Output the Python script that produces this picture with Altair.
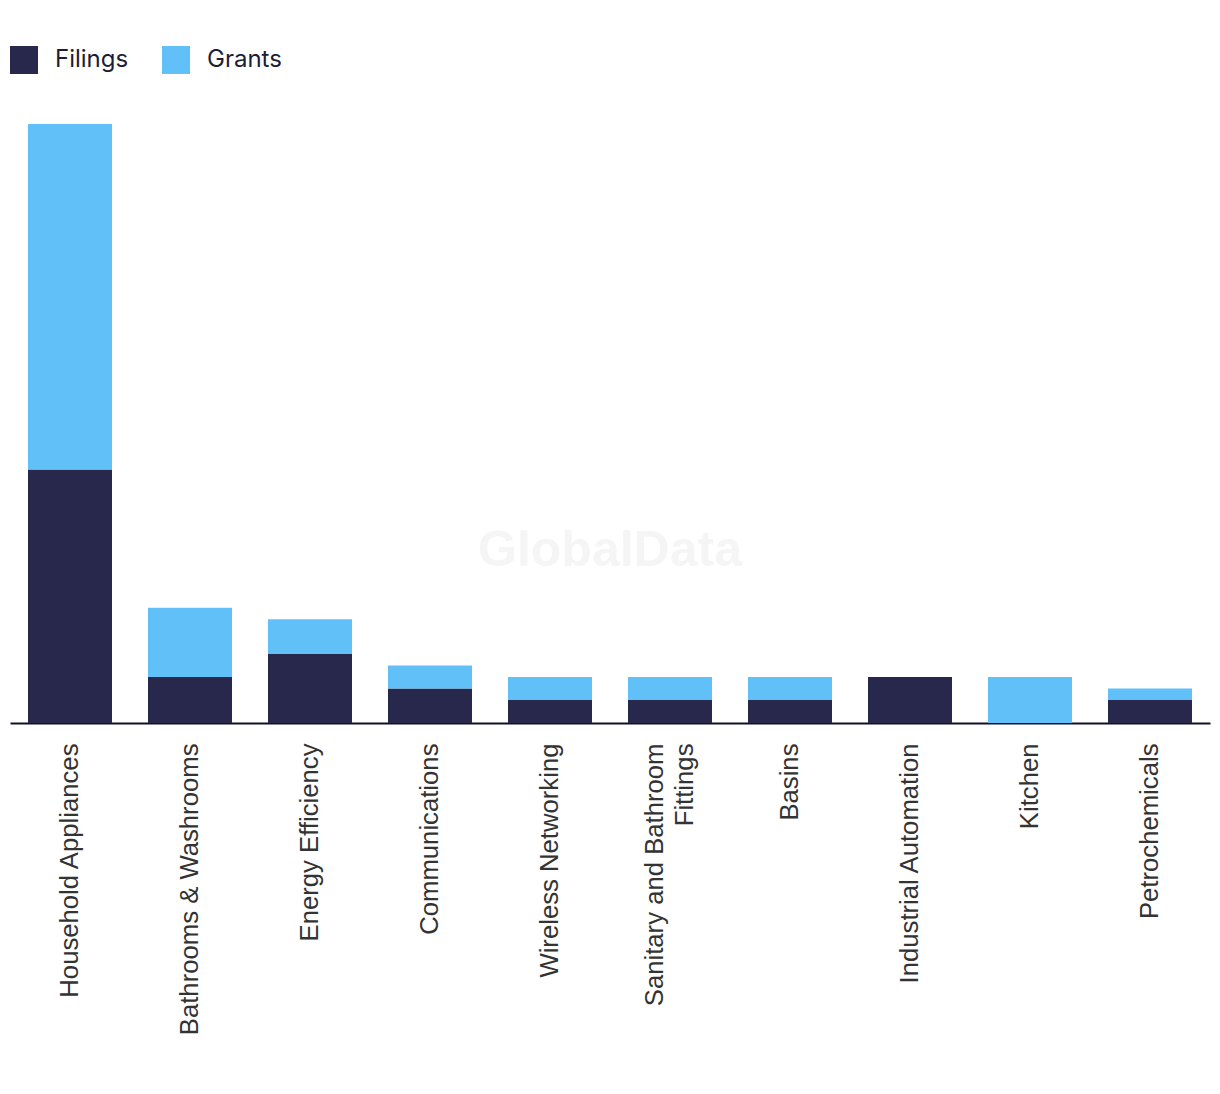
import altair as alt
import pandas as pd

categories = [
    "Household Appliances", "Bathrooms & Washrooms", "Energy Efficiency",
    "Communications", "Wireless Networking", "Sanitary and Bathroom Fittings",
    "Basins", "Industrial Automation", "Kitchen", "Petrochemicals",
]
filings = [22, 4, 6, 3, 2, 2, 2, 4, 0, 2]
grants = [30, 6, 3, 2, 2, 2, 2, 0, 4, 1]
series = ["Filings", "Grants"]
colors = ["#27284b", "#62c0f9"]

rows = []
for c, f, g in zip(categories, filings, grants):
    rows.append({"category": c, "type": "Filings", "value": f, "ord": 0})
    rows.append({"category": c, "type": "Grants", "value": g, "ord": 1})
df = pd.DataFrame(rows)

label_expr = ("datum.label == 'Sanitary and Bathroom Fittings' ? "
              "['Sanitary and Bathroom', 'Fittings'] : datum.label")
offset_expr = "datum.value == 'Sanitary and Bathroom Fittings' ? -15 : 0"

bars = alt.Chart(df).mark_bar().encode(
    x=alt.X("category:N", sort=categories,
            scale=alt.Scale(paddingInner=0.3, paddingOuter=0.15),
            axis=alt.Axis(title=None, labelAngle=-90, labelAlign="right",
                          labelBaseline="middle", labelPadding=20,
                          labelExpr=label_expr,
                          labelOffset=alt.ExprRef(offset_expr),
                          labelFont="Liberation Sans", labelFontSize=25.7,
                          labelColor="#333333", labelLineHeight=30,
                          ticks=False, domainColor="#10102a", domainWidth=2,
                          labelLimit=0)),
    y=alt.Y("value:Q", stack="zero", scale=alt.Scale(domain=[0, 52], nice=False),
            axis=None),
    color=alt.Color("type:N", sort=series,
                    scale=alt.Scale(domain=series, range=colors),
                    legend=alt.Legend(title=None, orient="none", legendX=0, legendY=-78,
                                      direction="horizontal", symbolType="square",
                                      symbolSize=784, symbolStrokeWidth=0,
                                      labelFont="Inter", labelFontSize=24,
                                      labelColor="#1d1d35", labelOffset=17,
                                      columnPadding=33, padding=0)),
    order=alt.Order("ord:Q"),
)

wm = alt.Chart(pd.DataFrame({"t": ["GlobalData"]})).mark_text(
    font="Liberation Sans", fontWeight="bold", fontSize=50, color="#f5f5f5",
    align="center", baseline="middle",
).encode(text="t:N", x=alt.value(600), y=alt.value(427))

chart = alt.layer(wm, bars).properties(
    width=1200, height=599,
    autosize=alt.AutoSizeParams(type="none"),
    padding={"left": 2, "top": 116, "right": 2, "bottom": 360},
).configure_view(stroke=None).configure_axis(grid=False)

chart.save("out.html", embed_options={"renderer": "svg", "actions": False})
